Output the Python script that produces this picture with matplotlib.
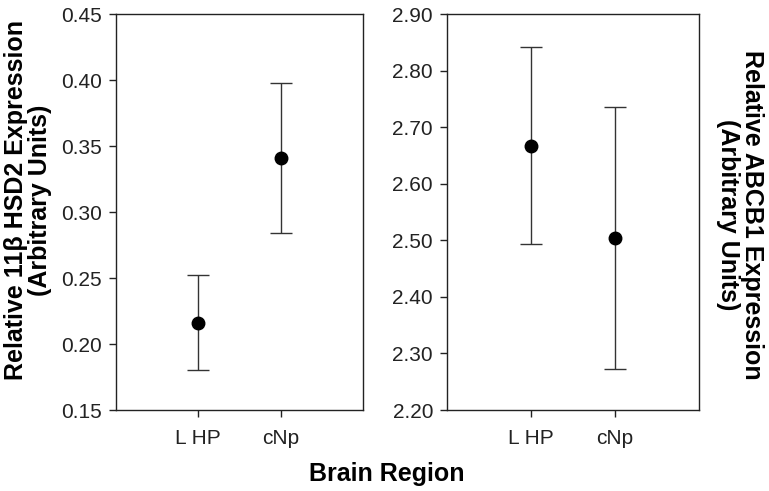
import matplotlib
matplotlib.use("Agg")
import matplotlib.pyplot as plt

# Data
regions = ["L HP", "cNp"]
hsd2_mean = [0.216, 0.341]
hsd2_low = [0.180, 0.284]
hsd2_high = [0.252, 0.398]
abcb1_mean = [2.666, 2.504]
abcb1_low = [2.493, 2.272]
abcb1_high = [2.841, 2.736]

plt.rcParams['font.family'] = ['Liberation Sans', 'DejaVu Sans']

fig = plt.figure(figsize=(7.69, 4.91), dpi=100)
ax1 = fig.add_axes([116 / 769, 1 - 410 / 491, 247 / 769, 396 / 491])
ax2 = fig.add_axes([447 / 769, 1 - 410 / 491, 252 / 769, 396 / 491])

x = [1, 2]

def draw(ax, mean, low, high, ylim, ticks, fmt):
    yerr = [[m - l for m, l in zip(mean, low)], [h - m for m, h in zip(mean, high)]]
    ax.errorbar(x, mean, yerr=yerr, fmt='none', ecolor='#333333', elinewidth=1.0,
                capsize=8, capthick=1.0)
    ax.plot(x, mean, 'o', color='black', markersize=9)
    ax.set_xlim(0, 3.0)
    ax.set_ylim(*ylim)
    ax.set_yticks(ticks)
    ax.set_yticklabels([fmt.format(t) for t in ticks])
    ax.set_xticks(x)
    ax.set_xticklabels(regions)
    ax.tick_params(axis='both', direction='out', length=5, width=1, labelsize=15, pad=5, colors='#222222')
    ax.tick_params(axis='x', pad=9)
    for s in ax.spines.values():
        s.set_linewidth(1)
        s.set_color('#222222')

draw(ax1, hsd2_mean, hsd2_low, hsd2_high, (0.15, 0.45),
     [0.15, 0.20, 0.25, 0.30, 0.35, 0.40, 0.45], "{:.2f}")
draw(ax2, abcb1_mean, abcb1_low, abcb1_high, (2.20, 2.90),
     [2.20, 2.30, 2.40, 2.50, 2.60, 2.70, 2.80, 2.90], "{:.2f}")

fig.text(28 / 769, 1 - 200 / 491, "Relative 11\u03b2 HSD2 Expression\n(Arbitrary Units)",
         rotation=90, ha='center', va='center', fontsize=18, fontweight='bold', linespacing=1.05)
fig.text(740 / 769, 1 - 215 / 491, "Relative ABCB1 Expression\n(Arbitrary Units)",
         rotation=270, ha='center', va='center', fontsize=18, fontweight='bold', linespacing=1.05)
fig.text(387 / 769, 1 - 474 / 491, "Brain Region", ha='center', va='center',
         fontsize=18, fontweight='bold')

fig.savefig("out.png", dpi=100)
